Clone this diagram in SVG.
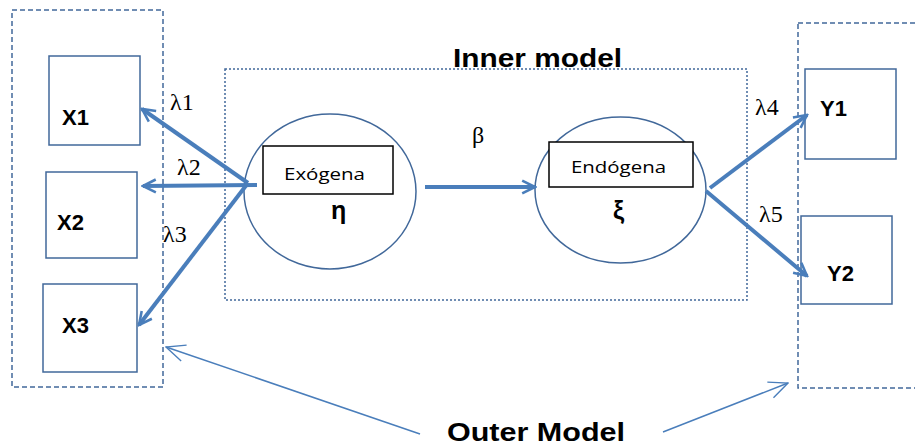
<svg xmlns="http://www.w3.org/2000/svg" width="915" height="447" viewBox="0 0 915 447">
<defs>
<style>
.outer{fill:none;stroke:#41689A;stroke-width:1.5;stroke-dasharray:5,3}
.inner{fill:none;stroke:#41689A;stroke-width:1.5;stroke-dasharray:2,2}
.box{fill:#fff;stroke:#41689A;stroke-width:1.5}
.lab{fill:#fff;stroke:#000;stroke-width:1.5}
.ell{fill:#fff;stroke:#41689A;stroke-width:1.5}
.thick{fill:none;stroke:#4A7EBB;stroke-width:4}
.thin{fill:none;stroke:#4A7EBB;stroke-width:1.5}
.b{font-family:"Liberation Sans",Arial,sans-serif;font-weight:bold;fill:#000}
.s{font-family:"Liberation Serif","Times New Roman",serif;fill:#000;font-size:24px}
.c{font-family:"Open Sans","Liberation Sans",sans-serif;fill:#000;font-size:16px}
</style>
<marker id="ah" viewBox="0 0 10 10" refX="9" refY="5" markerWidth="4" markerHeight="4" orient="auto" markerUnits="strokeWidth">
<path d="M1,1 L9,5 L1,9" fill="none" stroke="#4A7EBB" stroke-width="1.6"/>
</marker>
<marker id="ahs" viewBox="0 0 20 20" refX="19" refY="10" markerWidth="14" markerHeight="14" orient="auto" markerUnits="strokeWidth">
<path d="M1,2 L19,10 L1,18" fill="none" stroke="#4A7EBB" stroke-width="1.3"/>
</marker>
</defs>
<rect width="915" height="447" fill="#fff"/>

<g id="outer-left"><rect class="outer" x="12" y="10" width="151" height="377"/></g>
<g id="outer-right"><rect class="outer" x="798" y="23" width="130" height="365"/></g>
<g id="inner-model"><rect class="inner" x="225" y="69" width="522" height="231"/>
<text class="b" x="453" y="67" font-size="26" textLength="169" lengthAdjust="spacingAndGlyphs">Inner model</text></g>

<g id="X1"><rect class="box" x="49" y="56" width="91" height="89"/><text class="b" x="62" y="125" font-size="22">X1</text></g>
<g id="X2"><rect class="box" x="46" y="172" width="91" height="86"/><text class="b" x="57" y="230" font-size="22">X2</text></g>
<g id="X3"><rect class="box" x="43" y="284" width="94" height="88"/><text class="b" x="62" y="333" font-size="22">X3</text></g>
<g id="Y1"><rect class="box" x="805" y="69" width="91" height="90"/><text class="b" x="820" y="116" font-size="22">Y1</text></g>
<g id="Y2"><rect class="box" x="801" y="216" width="91" height="88"/><text class="b" x="827" y="281" font-size="22">Y2</text></g>

<g id="eta"><ellipse class="ell" cx="330" cy="191.5" rx="86" ry="77.5"/>
<rect class="lab" x="263" y="146" width="130" height="48"/>
<text class="c" x="284" y="180" textLength="81" lengthAdjust="spacingAndGlyphs">Exógena</text>
<text class="b" x="331" y="219" font-size="25">η</text></g>

<g id="xi"><ellipse class="ell" cx="620.5" cy="190" rx="85.5" ry="73"/>
<rect class="lab" x="549" y="142" width="144" height="45"/>
<text class="c" x="571" y="173" textLength="95" lengthAdjust="spacingAndGlyphs">Endógena</text>
<text class="b" x="613" y="219" font-size="25">ξ</text></g>

<g id="connectors">
<line class="thick" x1="248" y1="183" x2="142" y2="109" marker-end="url(#ah)"/>
<line class="thick" x1="257" y1="185" x2="143" y2="186" marker-end="url(#ah)"/>
<line class="thick" x1="248" y1="183" x2="139" y2="325" marker-end="url(#ah)"/>
<line class="thick" x1="425" y1="187" x2="535" y2="187" marker-end="url(#ah)"/>
<line class="thick" x1="710" y1="188" x2="807" y2="115" marker-end="url(#ah)"/>
<line class="thick" x1="706" y1="191" x2="807" y2="276" marker-end="url(#ah)"/>
<line class="thin" x1="420" y1="434" x2="166" y2="347" marker-end="url(#ahs)"/>
<line class="thin" x1="663" y1="432" x2="788" y2="383" marker-end="url(#ahs)"/>
</g>

<g id="labels">
<text class="s" x="170" y="110">λ1</text>
<text class="s" x="177" y="175">λ2</text>
<text class="s" x="163" y="242">λ3</text>
<text class="s" x="755" y="115">λ4</text>
<text class="s" x="759" y="222">λ5</text>
<text class="s" x="472" y="143">β</text>
<text class="b" x="447" y="441" font-size="26" textLength="178" lengthAdjust="spacingAndGlyphs">Outer Model</text>
</g>
</svg>
